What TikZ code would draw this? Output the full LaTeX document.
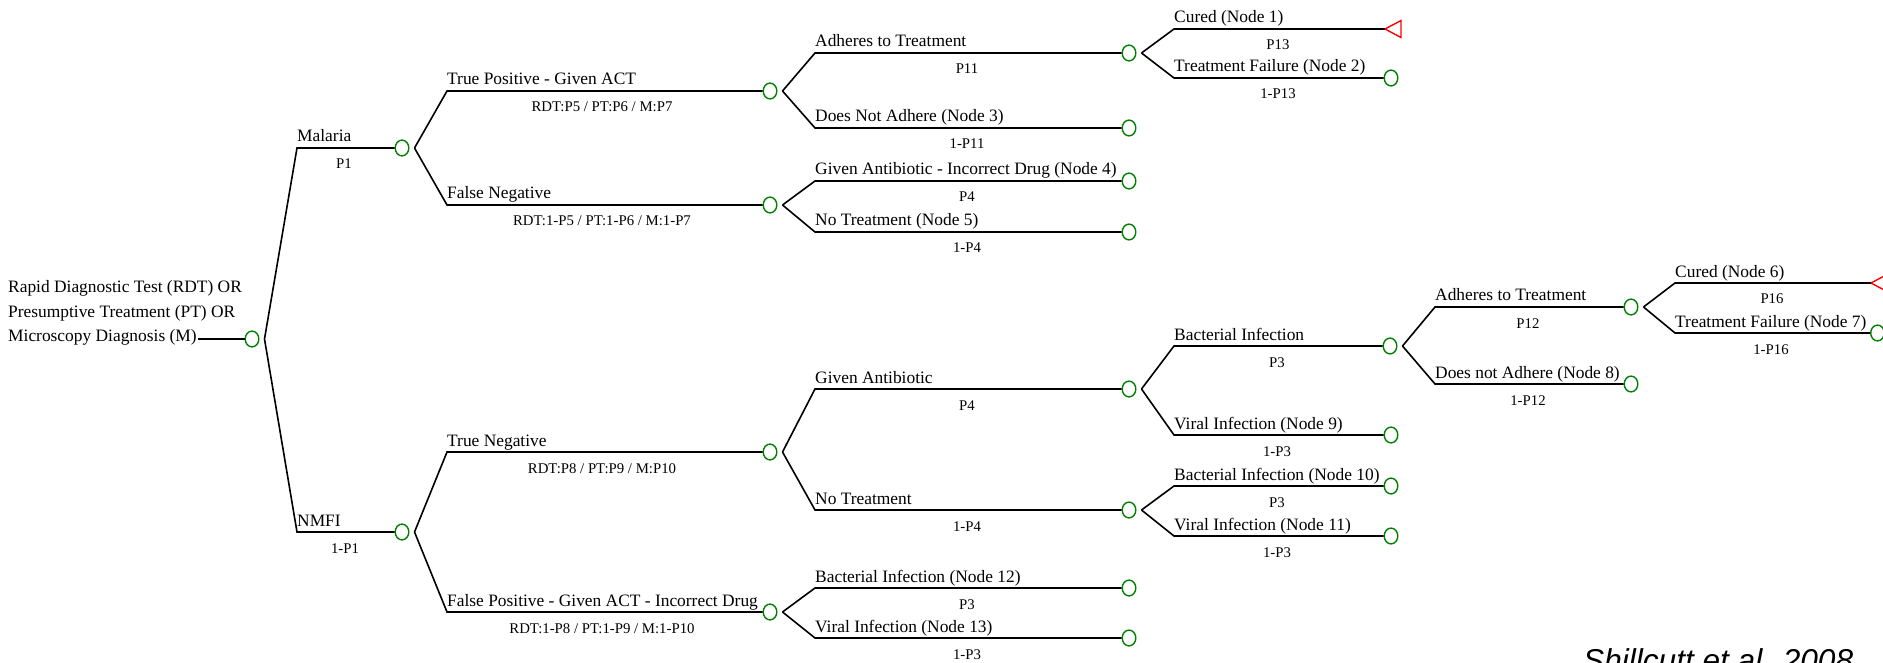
\documentclass[tikz,border=0pt]{standalone}
\usepackage{fontspec}
\setmainfont{Liberation Serif}
\newfontfamily\capfont{Liberation Sans}
\usetikzlibrary{shapes.geometric}
\definecolor{cgreen}{RGB}{0,128,0}
\definecolor{tred}{RGB}{255,0,0}
\tikzset{
  chance/.style={draw=cgreen, line width=1.4pt, ellipse, minimum width=13.6pt, minimum height=15.8pt, inner sep=0pt},
  br/.style={draw=black, line width=1.6pt, line join=miter},
  lab/.style={font=\fontsize{17.4}{20}\selectfont, anchor=base west, inner sep=0pt},
  prob/.style={font=\fontsize{14.8}{17}\selectfont, anchor=base, inner sep=0pt},
  termtri/.style={draw=tred, line width=1.4pt, line join=miter},
}
\begin{document}
\begin{tikzpicture}[x=1pt,y=-1pt]
\useasboundingbox (0,0) rectangle (1883,663);

% ---------- root ----------
\node[lab] (r1) at (8,293) {Rapid Diagnostic Test (RDT) OR};
\node[lab] (r2) at (8,317) {Presumptive Treatment (PT) OR};
\node[lab] (r3) at (8,341) {Microscopy Diagnosis (M)};
\node[chance] (c0) at (252,339) {};
\draw[br] (r3.base east) ++(1,-2) -- (c0);
\path (c0.east) ++(5,0) coordinate (v0);

% ---------- level 1 ----------
\coordinate (sMal) at (297,148);
\coordinate (sNM) at (297,532);
\node[chance] (cMal) at (402,148) {};
\node[chance] (cNM) at (402,532) {};
\draw[br] (v0) -- (sMal) -- (cMal);
\draw[br] (v0) -- (sNM) -- (cNM);
\node[lab] (tMal) at (297,142) {Malaria};
\node[lab] (tNM) at (297,526) {NMFI};
\node[prob] (pMal) at (344,169) {P1};
\node[prob] (pNM) at (345,553) {1-P1};
\path (cMal.east) ++(5,0) coordinate (vMal);
\path (cNM.east) ++(5,0) coordinate (vNM);

% ---------- level 2 ----------
\coordinate (sTP) at (447,91);
\coordinate (sFN) at (447,205);
\coordinate (sTN) at (447,452);
\coordinate (sFP) at (447,612);
\node[chance] (cTP) at (770,91) {};
\node[chance] (cFN) at (770,205) {};
\node[chance] (cTN) at (770,452) {};
\node[chance] (cFP) at (770,612) {};
\draw[br] (vMal) -- (sTP) -- (cTP);
\draw[br] (vMal) -- (sFN) -- (cFN);
\draw[br] (vNM) -- (sTN) -- (cTN);
\draw[br] (vNM) -- (sFP) -- (cFP);
\node[lab] (tTP) at (447,85) {True Positive - Given ACT};
\node[lab] (tFN) at (447,199) {False Negative};
\node[lab] (tTN) at (447,446) {True Negative};
\node[lab] (tFP) at (447,606) {False Positive - Given ACT - Incorrect Drug};
\node[prob] (pTP) at (602,112) {RDT:P5 / PT:P6 / M:P7};
\node[prob] (pFN) at (602,226) {RDT:1-P5 / PT:1-P6 / M:1-P7};
\node[prob] (pTN) at (602,473) {RDT:P8 / PT:P9 / M:P10};
\node[prob] (pFP) at (602,633) {RDT:1-P8 / PT:1-P9 / M:1-P10};
\path (cTP.east) ++(5,0) coordinate (vTP);
\path (cFN.east) ++(5,0) coordinate (vFN);
\path (cTN.east) ++(5,0) coordinate (vTN);
\path (cFP.east) ++(5,0) coordinate (vFP);

% ---------- level 3 ----------
\coordinate (sAd1) at (815,53);
\coordinate (sN3) at (815,128);
\coordinate (sN4) at (815,181);
\coordinate (sN5) at (815,232);
\coordinate (sGA) at (815,389);
\coordinate (sNT) at (815,510);
\coordinate (sN12) at (815,588);
\coordinate (sN13) at (815,638);
\node[chance] (cAd1) at (1129,53) {};
\node[chance] (n3) at (1129,128) {};
\node[chance] (n4) at (1129,181) {};
\node[chance] (n5) at (1129,232) {};
\node[chance] (cGA) at (1129,389) {};
\node[chance] (cNT) at (1129,510) {};
\node[chance] (n12) at (1129,588) {};
\node[chance] (n13) at (1129,638) {};
\draw[br] (vTP) -- (sAd1) -- (cAd1);
\draw[br] (vTP) -- (sN3) -- (n3);
\draw[br] (vFN) -- (sN4) -- (n4);
\draw[br] (vFN) -- (sN5) -- (n5);
\draw[br] (vTN) -- (sGA) -- (cGA);
\draw[br] (vTN) -- (sNT) -- (cNT);
\draw[br] (vFP) -- (sN12) -- (n12);
\draw[br] (vFP) -- (sN13) -- (n13);
\node[lab] (tAd1) at (815,47) {Adheres to Treatment};
\node[lab] (tN3) at (815,122) {Does Not Adhere (Node 3)};
\node[lab] (tN4) at (815,175) {Given Antibiotic - Incorrect Drug (Node 4)};
\node[lab] (tN5) at (815,226) {No Treatment (Node 5)};
\node[lab] (tGA) at (815,383) {Given Antibiotic};
\node[lab] (tNT) at (815,504) {No Treatment};
\node[lab] (tN12) at (815,582) {Bacterial Infection (Node 12)};
\node[lab] (tN13) at (815,632) {Viral Infection (Node 13)};
\node[prob] (pAd1) at (967,74) {P11};
\node[prob] (pN3) at (967,149) {1-P11};
\node[prob] (pN4) at (967,202) {P4};
\node[prob] (pN5) at (967,253) {1-P4};
\node[prob] (pGA) at (967,410) {P4};
\node[prob] (pNT) at (967,531) {1-P4};
\node[prob] (pN12) at (967,609) {P3};
\node[prob] (pN13) at (967,659) {1-P3};
\path (cAd1.east) ++(5,0) coordinate (vAd1);
\path (cGA.east) ++(5,0) coordinate (vGA);
\path (cNT.east) ++(5,0) coordinate (vNT);

% ---------- level 4 ----------
\coordinate (sN1) at (1174,29);
\coordinate (sN2) at (1174,78);
\coordinate (sBI) at (1174,346);
\coordinate (sN9) at (1174,435);
\coordinate (sN10) at (1174,486);
\coordinate (sN11) at (1174,536);
\coordinate (n1) at (1385,29);
\draw[termtri] (n1) -- ++(16,-8.5) -- ++(0,17) -- cycle;
\node[chance] (n2) at (1391,78) {};
\node[chance] (cBI) at (1390,346) {};
\node[chance] (n9) at (1391,435) {};
\node[chance] (n10) at (1391,486) {};
\node[chance] (n11) at (1391,536) {};
\draw[br] (vAd1) -- (sN1) -- (n1);
\draw[br] (vAd1) -- (sN2) -- (n2);
\draw[br] (vGA) -- (sBI) -- (cBI);
\draw[br] (vGA) -- (sN9) -- (n9);
\draw[br] (vNT) -- (sN10) -- (n10);
\draw[br] (vNT) -- (sN11) -- (n11);
\node[lab] (tN1) at (1174,23) {Cured (Node 1)};
\node[lab] (tN2) at (1174,72) {Treatment Failure (Node 2)};
\node[lab] (tBI) at (1174,340) {Bacterial Infection};
\node[lab] (tN9) at (1174,429) {Viral Infection (Node 9)};
\node[lab] (tN10) at (1174,480) {Bacterial Infection (Node 10)};
\node[lab] (tN11) at (1174,530) {Viral Infection (Node 11)};
\node[prob] (pN1) at (1278,50) {P13};
\node[prob] (pN2) at (1278,99) {1-P13};
\node[prob] (pBI) at (1277,367) {P3};
\node[prob] (pN9) at (1277,456) {1-P3};
\node[prob] (pN10) at (1277,507) {P3};
\node[prob] (pN11) at (1277,557) {1-P3};
\path (cBI.east) ++(5,0) coordinate (vBI);

% ---------- level 5 ----------
\coordinate (sAd2) at (1435,307);
\coordinate (sN8) at (1435,384);
\node[chance] (cAd2) at (1631,307) {};
\node[chance] (n8) at (1631,384) {};
\draw[br] (vBI) -- (sAd2) -- (cAd2);
\draw[br] (vBI) -- (sN8) -- (n8);
\node[lab] (tAd2) at (1435,301) {Adheres to Treatment};
\node[lab] (tN8) at (1435,378) {Does not Adhere (Node 8)};
\node[prob] (pAd2) at (1528,328) {P12};
\node[prob] (pN8) at (1528,405) {1-P12};
\path (cAd2.east) ++(5,0) coordinate (vAd2);

% ---------- level 6 ----------
\coordinate (sN6) at (1675,283);
\coordinate (sN7) at (1675,333);
\coordinate (n6) at (1871,283);
\draw[termtri] (n6) -- ++(16,-8.5) -- ++(0,17) -- cycle;
\node[chance] (n7) at (1877.5,333) {};
\draw[br] (vAd2) -- (sN6) -- (n6);
\draw[br] (vAd2) -- (sN7) -- (n7);
\node[lab] (tN6) at (1675,277) {Cured (Node 6)};
\node[lab] (tN7) at (1675,327) {Treatment Failure (Node 7)};
\node[prob] (pN6) at (1772,304) {P16};
\node[prob] (pN7) at (1771,354) {1-P16};

% ---------- caption ----------
\node[font=\capfont\itshape\fontsize{31.6}{36}\selectfont, anchor=base west, inner sep=0pt] (cap) at (1583,671) {Shillcutt et al. 2008};
\end{tikzpicture}
\end{document}
